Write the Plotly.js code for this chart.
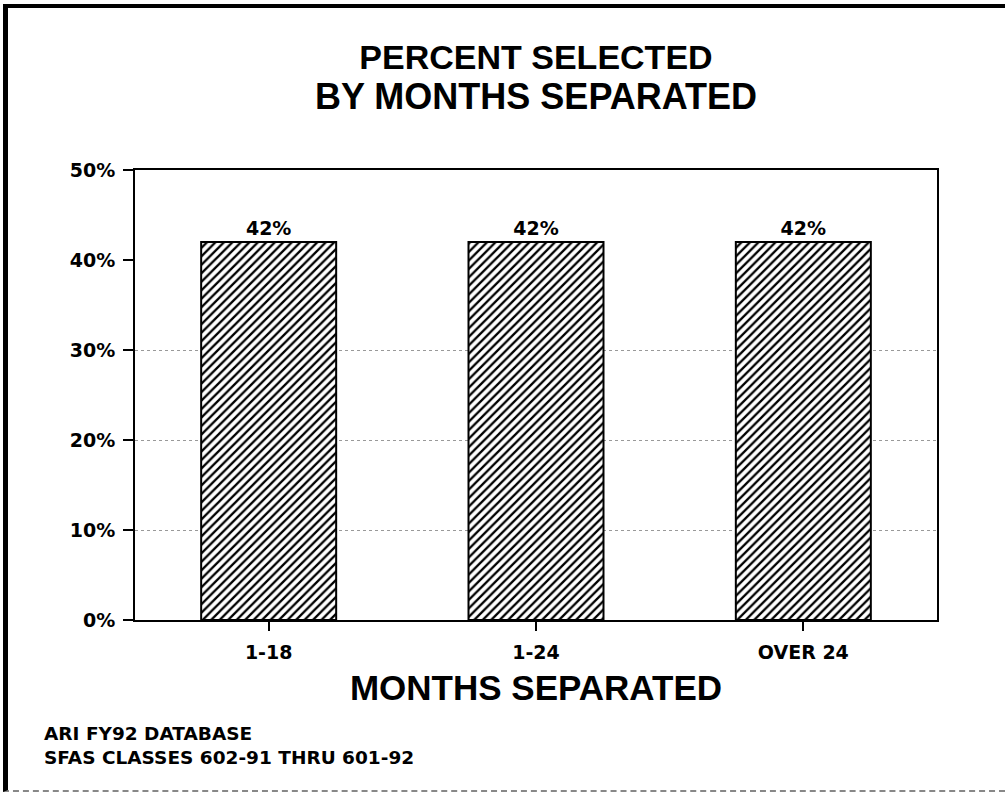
<!DOCTYPE html>
<html>
<head>
<meta charset="utf-8">
<script src="https://cdn.plot.ly/plotly-3.0.1.min.js"></script>
<style>
  html, body { margin: 0; padding: 0; background: #fff; }
  #wrap { position: relative; width: 1005px; height: 795px; }
  #chart { width: 1005px; height: 795px; }
  #frame { position: absolute; left: 3px; top: 4px; width: 1002px; height: 788px;
           border-left: 5px solid #000; border-top: 4px solid #000; border-bottom: 2px dashed #888;
           box-sizing: border-box; pointer-events: none; }
</style>
</head>
<body>
<div id="wrap">
  <div id="chart"></div>
  <div id="frame"></div>
</div>
<script>
const categories = ["1-18", "1-24", "OVER 24"];
const percentSelected = [42, 42, 42];
const yTickValues = [0, 10, 20, 30, 40, 50];
const gridValues = [10, 20, 30];
const titleLine1 = "PERCENT SELECTED";
const titleLine2 = "BY MONTHS SEPARATED";
const xAxisTitle = "MONTHS SEPARATED";
const sourceNote = "ARI FY92 DATABASE<br>SFAS CLASSES 602-91 THRU 601-92";

const FONT = "Liberation Sans, Arial, Helvetica, sans-serif";
const SMALL = "DejaVu Sans, Verdana, sans-serif";

const trace = {
  type: "bar",
  x: categories,
  y: percentSelected,
  width: 0.505,
  marker: {
    color: "#fff",
    line: { color: "#000", width: 2 },
    pattern: { shape: "/", fgcolor: "#000", bgcolor: "#fff", size: 6, solidity: 0.38 }
  },
  text: percentSelected.map(v => v + "%"),
  textposition: "outside",
  textfont: { family: SMALL, size: 19, color: "#000", weight: "bold" },
  cliponaxis: false,
  hoverinfo: "skip"
};

// invisible helper trace so the grid-only axis is drawn
const gridTrace = {
  type: "scatter", mode: "markers",
  x: categories, y: percentSelected,
  yaxis: "y2", marker: { opacity: 0 }, hoverinfo: "skip", showlegend: false
};

const layout = {
  width: 1005,
  height: 795,
  margin: { l: 135, r: 68, t: 170, b: 175 },
  paper_bgcolor: "#fff",
  plot_bgcolor: "rgba(0,0,0,0)",
  showlegend: false,
  font: { family: FONT, color: "#000" },
  title: {
    text: titleLine1,
    font: { family: FONT, size: 34, color: "#000", weight: "bold" },
    x: 0.5, xref: "paper", xanchor: "center",
    y: 1 - 57 / 795, yref: "container", yanchor: "middle"
  },
  xaxis: {
    type: "category",
    showline: true, linecolor: "#000", linewidth: 2, mirror: true,
    ticks: "outside", ticklen: 9, tickwidth: 2, tickcolor: "#000",
    ticklabelstandoff: 5,
    tickfont: { family: SMALL, size: 19, color: "#000", weight: "bold" },
    showgrid: false, zeroline: false,
    title: { text: xAxisTitle, font: { family: FONT, size: 35, color: "#000", weight: "bold" }, standoff: 14 }
  },
  yaxis: {
    range: [0, 50],
    tickvals: yTickValues,
    ticktext: yTickValues.map(v => v + "%"),
    showline: true, linecolor: "#000", linewidth: 2, mirror: true,
    ticks: "outside", ticklen: 10, tickwidth: 2, tickcolor: "#000",
    ticklabelstandoff: 4,
    tickfont: { family: SMALL, size: 19, color: "#000", weight: "bold" },
    showgrid: false, zeroline: false
  },
  yaxis2: {
    overlaying: "y", side: "left", range: [0, 50],
    tickvals: gridValues, showticklabels: false, ticks: "",
    showgrid: true, gridcolor: "#999", gridwidth: 1, griddash: "dot",
    showline: false, zeroline: false, layer: "below traces"
  },
  annotations: [
    {
      text: titleLine2, showarrow: false,
      xref: "paper", x: 0.5, xanchor: "center",
      yref: "paper", y: (620 - 97) / 450, yanchor: "middle",
      font: { family: FONT, size: 36, color: "#000", weight: "bold" }
    },
    {
      text: sourceNote, showarrow: false, align: "left",
      xref: "paper", x: (42 - 135) / 802, xanchor: "left",
      yref: "paper", y: (620 - 721) / 450, yanchor: "top",
      font: { family: SMALL, size: 18.5, color: "#000", weight: "bold" }
    }
  ]
};

Plotly.newPlot("chart", [gridTrace, trace], layout, { displayModeBar: false, staticPlot: true });
</script>
</body>
</html>
